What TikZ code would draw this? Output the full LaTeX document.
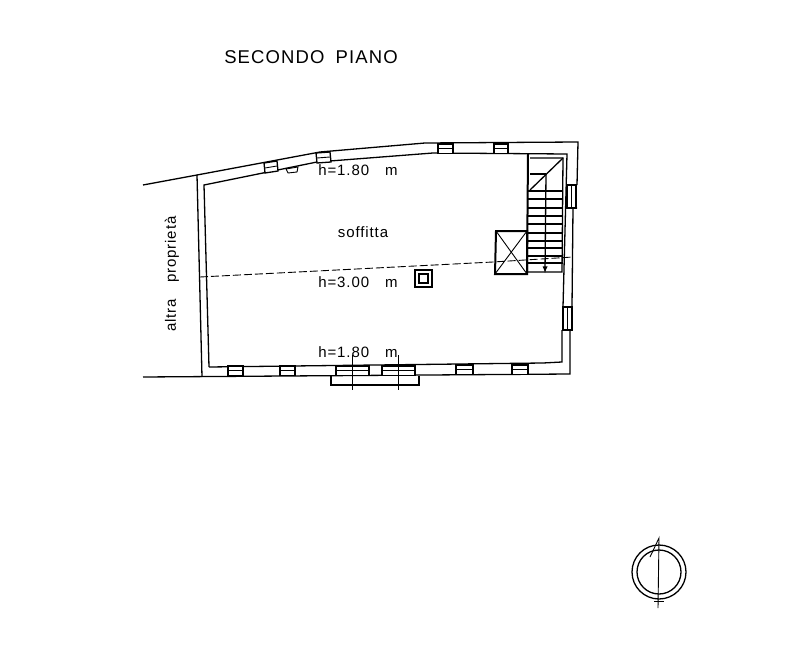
\documentclass[tikz,border=0pt]{standalone}
\usepackage{fontspec}
\setmainfont{Liberation Sans}
\newfontfamily\cadfont[LetterSpace=6]{Liberation Sans}
\usepackage{amsmath}
\usepackage{tikz}
\tikzset{
	wall/.style={line width=1.3pt},
	thick wall/.style={line width=2pt},
	thin wall/.style={line width=0.9pt},
	label/.style={inner sep=0pt,font=\cadfont\fontsize{15}{15}\selectfont},
}
\begin{document}
\begin{tikzpicture}[x=1pt,y=-1pt]
\useasboundingbox (0,0) rectangle (800,650);

% titles and heights
\node[inner sep=0pt,font=\cadfont\fontsize{18.5}{18.5}\selectfont] (title) at (311,57) {SECONDO\hspace{5pt} PIANO};
\node[label] (upper) at (358,170) {h=1.80\hspace{11pt} m};
\node[label] (soffitta) at (363,232) {soffitta};
\node[label] (middle) at (358,282) {h=3.00\hspace{11pt} m};
\node[label] (lower) at (358,352) {h=1.80\hspace{11pt} m};
\node[label,rotate=90] (altra) at (172,274) {altra\hspace{11pt} proprietà};

% walls
\draw[wall] (143,185) -- (197,175) -- (320,152) -- (425,143) -- (578,142) -- (577,185);
\draw[wall] (577,208) -- (573,208) -- (572,307);
\draw[wall] (572,330) -- (570,330) -- (570,374) -- (143,377);
\draw[wall] (197,175) -- (202,377);
\draw[wall] (209,367) -- (204,185) -- (317,162) -- (433,153) -- (567,154) -- (563,307);
\draw[wall] (562,330) -- (562,362) -- (543,363) -- (209,367);

% openings, top wall
\foreach \a/\b/\c/\d in {264/163/277/161,316/153/330/152}
{
	\draw[wall,fill=white] (\a,\b) -- (\c,\d) -- (\c+1,\d+10) -- (\a+1,\b+10) -- cycle;
	\draw[thin wall] (\a+1,\b+5) -- (\c,\d+5);
}
\draw[thin wall] (286,169) -- (298,167) -- (297,172) -- (288,173) -- cycle;
\foreach \x/\y/\w in {438/144/15,494/144/14,228/366/15,280/366/15,456/365/17,512/365/16,336/366/33,382/366/33}
{
	\draw[wall,fill=white] (\x,\y) rectangle ++(\w,9.5);
	\draw[thin wall] (\x,\y+4.5) -- ++(\w,0);
}

% openings, right wall
\foreach \x/\y/\h in {567/185/23,563/307/23}
{
	\draw[wall,fill=white] (\x,\y) rectangle ++(9,\h);
	\draw[thin wall] (\x+4.5,\y) -- ++(0,\h);
}

% balcony
\draw[thick wall] (331,376) -- (331,385) -- (419,385) -- (419,376);
\foreach \x in {352,398}
	\draw[thin wall] (\x,355) -- (\x,390);

% ridge
\draw[thin wall,dash pattern=on 8pt off 3pt] (200,277) -- (493,262) -- (573,257);

% flue
\draw[thick wall] (415,270) rectangle (432,287);
\draw[wall] (419,274) rectangle (428,283);

% stairs
\draw[thick wall] (528,154) -- (527,273);
\draw[wall] (530,158) -- (563,158) -- (562,272) -- (527,272);
\draw[wall] (530,190) -- (563,158);
\draw[wall] (530,174) -- (546,174);
\draw[wall,-latex] (546,174) -- (545,273);
\foreach \y in {191,199,208,216,224,233,241,248,256,263}
	\draw[wall] (527,\y) -- (563,\y);

% void
\draw[thick wall] (496,231) -- (527,231) -- (527,274) -- (495,274) -- cycle;
\draw[thin wall] (496,231) -- (527,274);
\draw[thin wall] (527,231) -- (495,274);

% north mark
\coordinate (tip) at (659,538);
\coordinate (tail) at (658,608);
\draw[wall] (659,572) circle (27);
\draw[wall] (659,572) circle (22);
\draw[thin wall] (tail) -- (tip) -- (650,557);
\draw[thin wall] (654,601) -- (664,601);
\end{tikzpicture}
\end{document}
